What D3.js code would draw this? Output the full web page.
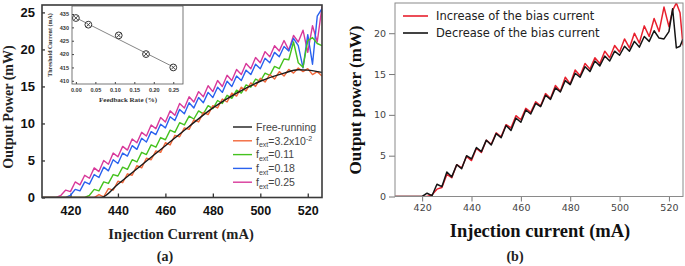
<!DOCTYPE html>
<html>
<head>
<meta charset="utf-8">
<script src="https://cdn.jsdelivr.net/npm/d3@7/dist/d3.min.js"></script>
<style>
  body { margin: 0; background: #fff; }
  svg { display: block; }
</style>
</head>
<body>
<svg width="685" height="266"></svg>
<script>
// ---- panel (a) data: injection current (mA) vs output power (mW)
const currentA = [408,410,412,414,416,418,420,422,424,426,428,430,432,434,436,438,440,442,444,446,
  448,450,452,454,456,458,460,462,464,466,468,470,472,474,476,478,480,482,484,486,
  488,490,492,494,496,498,500,502,504,506,508,510,512,514,516,518,520,522,524,526];

const freeCurrent = [408, 433, 440, 450, 460, 470, 480, 490, 500, 510, 516, 520, 526];
const freePower = [0, 0, 1.8, 4.4, 7.0, 9.6, 12.1, 14.1, 15.7, 16.8, 17.25, 17.2, 16.9];

const powerF032 = [0,0,0,0,0,0,0,0,0,0,0,
  0,0.4,0.1,1.2,1.0,2.2,2.0,3.2,3.0,4.3,
  4.0,5.3,5.1,6.3,6.1,7.4,7.1,8.4,8.2,9.4,
  9.2,10.5,10.2,11.5,11.2,12.4,12.1,13.3,12.9,14.1,
  13.7,14.9,14.4,15.5,15.0,16.1,15.6,16.6,16.0,17.0,
  16.4,17.3,16.8,17.5,17.0,17.4,16.6,17.0,16.4];

const powerF11 = [0,0,0,0,0,0,0,0,0,0,
  0.3,1.1,0.9,2.1,1.9,3.1,2.9,4.1,3.8,5.1,
  4.8,6.1,5.8,7.1,6.8,8.1,7.8,9.1,8.8,10.1,
  9.8,11.0,10.6,11.7,11.3,12.4,12.0,13.1,12.7,13.8,
  13.4,14.5,14.1,15.2,14.9,16.0,15.7,16.8,16.5,17.7,
  17.4,18.7,18.6,21.0,18.2,17.6,21.2,21.6,20.8,20.5];

const powerF18 = [0,0,0,0,0,0,
  0.3,1.1,0.9,2.1,1.8,3.1,2.7,4.1,3.6,5.1,
  4.6,6.0,5.6,7.0,6.5,8.0,7.5,8.9,8.5,9.9,
  9.4,10.9,10.4,11.9,11.3,12.8,12.1,13.5,12.8,14.2,
  13.5,14.9,14.2,15.7,15.0,16.4,15.8,17.2,16.6,18.0,
  17.4,18.8,18.2,19.6,19.0,20.4,19.8,21.5,20.5,17.5,
  22.0,18.0,24.5,25.5];

const powerF25 = [0,0,0,0,
  0.3,1.0,0.8,2.1,1.7,3.0,2.6,4.0,3.5,5.0,
  4.5,6.0,5.5,6.9,6.4,7.9,7.4,8.8,8.3,9.8,
  9.3,10.8,10.2,11.7,11.1,12.7,12.1,13.6,12.9,14.3,
  13.6,15.1,14.3,15.8,15.0,16.5,15.8,17.3,16.6,18.1,
  17.4,18.9,18.2,19.7,19.0,20.5,19.8,21.2,19.9,21.9,
  21.0,22.6,19.6,23.2,21.0,25.8];

// inset: threshold current vs feedback rate
const feedbackRate = [0, 0.032, 0.11, 0.18, 0.25];
const thresholdCurrent = [433.5, 431, 427, 420, 415];
const fitRate = [0, 0.25];
const fitThreshold = [433.6, 415.2];

// ---- panel (b) data
const currentB = [408,410,412,414,416,418,420,422,424,426,428,430,432,434,436,438,440,442,444,446,
  448,450,452,454,456,458,460,462,464,466,468,470,472,474,476,478,480,482,484,486,
  488,490,492,494,496,498,500,502,504,506,508,510,512,514,516,518,520,521.5,523,524.5,525.7];

const powerIncrease = [0,0,0,0,0,0,0,0,
  0.2,0.9,1.1,2.7,2.3,3.9,3.5,4.9,4.4,5.9,
  5.4,6.9,6.4,7.8,7.3,8.8,8.4,9.9,9.4,10.8,
  10.3,11.6,11.1,12.6,12.0,13.6,12.9,14.6,13.8,15.5,
  14.8,16.3,15.6,17.0,16.3,17.8,17.0,18.5,17.7,19.3,
  18.2,20.0,18.8,20.9,19.6,
  21.8,20.2,23.2,20.8,22.8,23.7,22.5,18.5];

const powerDecrease = [0,0,0,0,0,0,0,
  0.4,0.1,1.5,1.2,3.0,2.4,3.9,3.4,5.0,4.6,
  6.0,5.5,6.9,6.3,7.7,7.2,8.7,8.1,9.6,9.1,
  10.6,10.1,11.4,11.0,12.4,11.9,13.3,12.8,14.2,13.7,
  15.1,14.6,15.9,15.3,16.6,16.0,17.2,16.6,17.8,17.3,
  18.4,17.8,19.0,18.3,19.6,19.0,
  20.3,19.4,19.3,20.2,23.0,18.2,18.4,19.3];

const ticksA = [420, 440, 460, 480, 500, 520];
const ticksPowerA = [0, 5, 10, 15, 20, 25];
const ticksPowerB = [0, 5, 10, 15, 20];
const ticksRate = [0, 0.05, 0.10, 0.15, 0.20, 0.25];
const ticksThreshold = [410, 415, 420, 425, 430, 435];

const seriesA = [
  { label: 'Free-running', color: '#1a1a1a', x: freeCurrent, y: freePower, smooth: true },
  { label: '3.2x10', sup: '-2', color: '#f2673a', x: currentA, y: powerF032 },
  { label: '0.11', color: '#45c21f', x: currentA, y: powerF11 },
  { label: '0.18', color: '#2a62ee', x: currentA, y: powerF18 },
  { label: '0.25', color: '#d8399a', x: currentA, y: powerF25 }
];

const seriesB = [
  { label: 'Increase of the bias current', color: '#e8202e', y: powerIncrease },
  { label: 'Decrease of the bias current', color: '#141414', y: powerDecrease }
];

const SERIF = '"Liberation Serif", "Times New Roman", serif';
const SANS = '"Liberation Sans", Arial, sans-serif';
const svg = d3.select('svg');

// ================= panel (a) =================
const xA = d3.scaleLinear().domain([408, 526]).range([42, 322]);
const yA = d3.scaleLinear().domain([0, 26]).range([197.5, 5]);

svg.append('clipPath').attr('id', 'clipA')
  .append('rect').attr('x', 42).attr('y', 5).attr('width', 280).attr('height', 192.5);

const gA = svg.append('g');

gA.append('g')
  .attr('transform', 'translate(0,197.5)')
  .call(d3.axisBottom(xA).tickValues(ticksA).tickSize(-4).tickPadding(9).tickFormat(d3.format('d')))
  .call(g => g.select('.domain').remove())
  .call(g => g.selectAll('line').attr('stroke', '#333').attr('stroke-width', 1.3))
  .call(g => g.selectAll('text').attr('font-family', SANS).attr('font-weight', 'bold')
    .attr('font-size', 12.5).attr('fill', '#111'));

gA.append('g')
  .attr('transform', 'translate(42,0)')
  .call(d3.axisLeft(yA).tickValues(ticksPowerA).tickSize(-3).tickPadding(7))
  .call(g => g.select('.domain').remove())
  .call(g => g.selectAll('line').attr('stroke', '#333').attr('stroke-width', 1.3))
  .call(g => g.selectAll('text').attr('font-family', SANS).attr('font-weight', 'bold')
    .attr('font-size', 13).attr('fill', '#111'));

const curvesA = gA.append('g').attr('clip-path', 'url(#clipA)');
// draw back to front so the black reference line sits on top of the orange one
[seriesA[4], seriesA[3], seriesA[2], seriesA[1], seriesA[0]].forEach(s => {
  const line = d3.line()
    .x((d, i) => xA(s.x[i]))
    .y(d => yA(d))
    .curve(s.smooth ? d3.curveMonotoneX : d3.curveLinear);
  curvesA.append('path')
    .datum(s.y)
    .attr('fill', 'none')
    .attr('stroke', s.color)
    .attr('stroke-width', 1.4)
    .attr('stroke-linejoin', 'round')
    .attr('d', line);
});

gA.append('rect')
  .attr('x', 42).attr('y', 5).attr('width', 280).attr('height', 192.5)
  .attr('fill', 'none').attr('stroke', '#3a3a3a').attr('stroke-width', 1.6);

// legend (a)
const legA = gA.append('g').attr('font-family', SANS).attr('font-size', 10.5).attr('fill', '#444');
seriesA.forEach((s, i) => {
  const yy = 127 + i * 13.8;
  legA.append('line').attr('x1', 233).attr('x2', 252).attr('y1', yy).attr('y2', yy)
    .attr('stroke', s.color).attr('stroke-width', 1.4);
  const t = legA.append('text').attr('x', 256).attr('y', yy + 3.8);
  if (i === 0) {
    t.text(s.label);
  } else {
    t.append('tspan').text('f');
    t.append('tspan').attr('font-size', 7).attr('dy', 2.5).text('ext');
    t.append('tspan').attr('dy', -2.5).text('=' + s.label);
    if (s.sup) t.append('tspan').attr('font-size', 7).attr('dy', -4).text(s.sup);
  }
});

// inset
const xI = d3.scaleLinear().domain([-0.01, 0.275]).range([72, 183]);
const yI = d3.scaleLinear().domain([408.8, 438]).range([84, 6]);
const gI = svg.append('g');
gI.append('rect').attr('x', 72).attr('y', 6).attr('width', 111).attr('height', 78).attr('fill', '#fff');

gI.append('g')
  .attr('transform', 'translate(0,84)')
  .call(d3.axisBottom(xI).tickValues(ticksRate).tickSize(-2).tickPadding(4).tickFormat(d3.format('.2f')))
  .call(g => g.select('.domain').remove())
  .call(g => g.selectAll('line').attr('stroke', '#444'))
  .call(g => g.selectAll('text').attr('font-family', SANS).attr('font-weight', 'bold')
    .attr('font-size', 5.5).attr('fill', '#333'));

gI.append('g')
  .attr('transform', 'translate(72,0)')
  .call(d3.axisLeft(yI).tickValues(ticksThreshold).tickSize(-2).tickPadding(3))
  .call(g => g.select('.domain').remove())
  .call(g => g.selectAll('line').attr('stroke', '#444'))
  .call(g => g.selectAll('text').attr('font-family', SANS).attr('font-weight', 'bold')
    .attr('font-size', 5.5).attr('fill', '#333'));

gI.append('path')
  .datum(fitRate)
  .attr('fill', 'none').attr('stroke', '#777').attr('stroke-width', 0.9)
  .attr('d', d3.line().x(d => xI(d)).y((d, i) => yI(fitThreshold[i])));

const marks = gI.selectAll('g.mark').data(feedbackRate).enter().append('g')
  .attr('class', 'mark')
  .attr('transform', (d, i) => `translate(${xI(d)},${yI(thresholdCurrent[i])})`);
marks.append('circle').attr('r', 3.4).attr('fill', '#fff').attr('stroke', '#333').attr('stroke-width', 1);
marks.append('path').attr('d', 'M-1.9,-1.9L1.9,1.9M-1.9,1.9L1.9,-1.9').attr('stroke', '#333').attr('stroke-width', 0.9);

gI.append('rect').attr('x', 72).attr('y', 6).attr('width', 111).attr('height', 78)
  .attr('fill', 'none').attr('stroke', '#555').attr('stroke-width', 0.8);

gI.append('text').attr('x', 128).attr('y', 102).attr('text-anchor', 'middle')
  .attr('font-family', SERIF).attr('font-weight', 'bold').attr('font-size', 7).attr('fill', '#333')
  .text('Feedback Rate (%)');
gI.append('text').attr('transform', 'translate(52,45) rotate(-90)').attr('text-anchor', 'middle')
  .attr('font-family', SERIF).attr('font-weight', 'bold').attr('font-size', 6).attr('fill', '#333')
  .text('Threshold Current (mA)');

// axis titles (a)
svg.append('text').attr('x', 181).attr('y', 239).attr('text-anchor', 'middle')
  .attr('font-family', SERIF).attr('font-weight', 'bold').attr('font-size', 14.5).attr('fill', '#222')
  .text('Injection Current (mA)');
svg.append('text').attr('transform', 'translate(13,107) rotate(-90)').attr('text-anchor', 'middle')
  .attr('font-family', SERIF).attr('font-weight', 'bold').attr('font-size', 14).attr('fill', '#222')
  .text('Output Power (mW)');
svg.append('text').attr('x', 165).attr('y', 261).attr('text-anchor', 'middle')
  .attr('font-family', SERIF).attr('font-weight', 'bold').attr('font-size', 14).attr('fill', '#222')
  .text('(a)');

// ================= panel (b) =================
const xB = d3.scaleLinear().domain([409, 525.7]).range([395, 683]);
const yB = d3.scaleLinear().domain([0, 23.7]).range([196.5, 3]);

svg.append('clipPath').attr('id', 'clipB')
  .append('rect').attr('x', 395).attr('y', 3).attr('width', 288).attr('height', 193.5);

const gB = svg.append('g');

gB.append('g')
  .attr('transform', 'translate(0,196.5)')
  .call(d3.axisBottom(xB).tickValues(ticksA).tickSize(5).tickPadding(3).tickFormat(d3.format('d')))
  .call(g => g.select('.domain').remove())
  .call(g => g.selectAll('line').attr('stroke', '#777'))
  .call(g => g.selectAll('text').attr('font-family', '"DejaVu Sans", sans-serif')
    .attr('font-size', 9.5).attr('fill', '#444'));

gB.append('g')
  .attr('transform', 'translate(395,0)')
  .call(d3.axisLeft(yB).tickValues(ticksPowerB).tickSize(6).tickPadding(3))
  .call(g => g.select('.domain').remove())
  .call(g => g.selectAll('line').attr('stroke', '#777'))
  .call(g => g.selectAll('text').attr('font-family', '"DejaVu Sans", sans-serif')
    .attr('font-size', 9.5).attr('fill', '#444'));

const curvesB = gB.append('g').attr('clip-path', 'url(#clipB)');
seriesB.forEach(s => {
  curvesB.append('path')
    .datum(s.y)
    .attr('fill', 'none')
    .attr('stroke', s.color)
    .attr('stroke-width', 1.5)
    .attr('stroke-linejoin', 'round')
    .attr('d', d3.line().x((d, i) => xB(currentB[i])).y(d => yB(d)));
});

gB.append('rect')
  .attr('x', 395).attr('y', 3).attr('width', 288).attr('height', 193.5)
  .attr('fill', 'none').attr('stroke', '#8a8a8a').attr('stroke-width', 1);

const legB = gB.append('g').attr('font-family', '"DejaVu Sans", sans-serif').attr('font-size', 11.5).attr('fill', '#222');
seriesB.forEach((s, i) => {
  const yy = 16 + i * 17;
  legB.append('line').attr('x1', 403).attr('x2', 428).attr('y1', yy).attr('y2', yy)
    .attr('stroke', s.color).attr('stroke-width', 1.6);
  legB.append('text').attr('x', 436).attr('y', yy + 4.2).text(s.label);
});

svg.append('text').attr('x', 540).attr('y', 237).attr('text-anchor', 'middle')
  .attr('font-family', SERIF).attr('font-weight', 'bold').attr('font-size', 18.5).attr('fill', '#111')
  .text('Injection current (mA)');
svg.append('text').attr('transform', 'translate(361,100) rotate(-90)').attr('text-anchor', 'middle')
  .attr('font-family', SERIF).attr('font-weight', 'bold').attr('font-size', 17).attr('fill', '#111')
  .text('Output power (mW)');
svg.append('text').attr('x', 515).attr('y', 261).attr('text-anchor', 'middle')
  .attr('font-family', SERIF).attr('font-weight', 'bold').attr('font-size', 14).attr('fill', '#222')
  .text('(b)');
</script>
</body>
</html>
